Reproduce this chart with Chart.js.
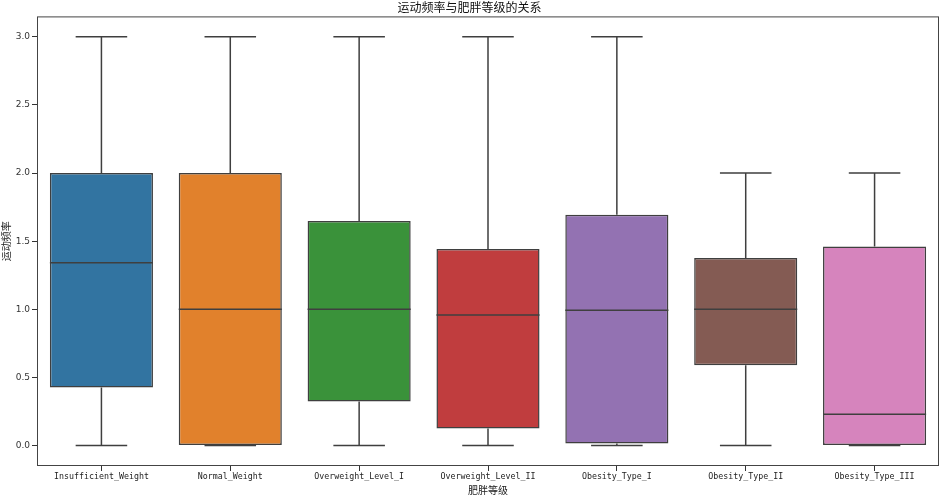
<!DOCTYPE html>
<html>
<head>
<meta charset="utf-8">
<script src="https://cdn.jsdelivr.net/npm/chart.js@4/dist/chart.umd.min.js"></script>
<style>
html,body{margin:0;padding:0;background:#fff;}
#wrap{width:942px;height:496px;}
</style>
</head>
<body>
<div id="wrap"><canvas id="c"></canvas></div>
<script>
const categories = ["Insufficient_Weight","Normal_Weight","Overweight_Level_I","Overweight_Level_II","Obesity_Type_I","Obesity_Type_II","Obesity_Type_III"];
const whiskerLow  = [0, 0, 0, 0, 0, 0, 0];
const q1Values    = [0.426, 0, 0.323, 0.126, 0.015, 0.59, 0];
const medianValues= [1.342, 1.0, 1.0, 0.959, 0.994, 1.0, 0.23];
const q3Values    = [2.0, 2.0, 1.648, 1.442, 1.694, 1.377, 1.462];
const whiskerHigh = [3.0, 3.0, 3.0, 3.0, 3.0, 2.0, 2.0];
const yTickValues = [0.0, 0.5, 1.0, 1.5, 2.0, 2.5, 3.0];
const boxColors = ["#3274a1","#e1812c","#3a923a","#c03d3e","#9372b2","#845b53","#d684bd"];
const lineColor = "#3f3f3f";
const cjk = "'Noto Sans CJK SC','DejaVu Sans',sans-serif";

const boxPlugin = {
  id: 'boxparts',
  afterDatasetsDraw(chart) {
    const ctx = chart.ctx;
    const xs = chart.scales.x, ys = chart.scales.y;
    const meta = chart.getDatasetMeta(0);
    ctx.save();
    ctx.strokeStyle = lineColor;
    ctx.lineWidth = 1.5;
    ctx.lineCap = 'butt';
    categories.forEach((c, i) => {
      const el = meta.data[i];
      const cx = xs.getPixelForValue(i);
      const half = el.width / 2;
      const capHalf = half / 2;
      const yLo = ys.getPixelForValue(whiskerLow[i]);
      const yQ1 = ys.getPixelForValue(q1Values[i]);
      const yMed = ys.getPixelForValue(medianValues[i]);
      const yQ3 = ys.getPixelForValue(q3Values[i]);
      const yHi = ys.getPixelForValue(whiskerHigh[i]);
      ctx.beginPath();
      ctx.moveTo(cx, yQ1); ctx.lineTo(cx, yLo);
      ctx.moveTo(cx, yQ3); ctx.lineTo(cx, yHi);
      ctx.moveTo(cx - capHalf, yLo); ctx.lineTo(cx + capHalf, yLo);
      ctx.moveTo(cx - capHalf, yHi); ctx.lineTo(cx + capHalf, yHi);
      ctx.moveTo(cx - half, yMed); ctx.lineTo(cx + half, yMed);
      ctx.stroke();
    });
    ctx.restore();
  },
  afterDraw(chart) {
    const ctx = chart.ctx, a = chart.chartArea;
    ctx.save();
    ctx.strokeStyle = '#444';
    ctx.lineWidth = 1;
    ctx.strokeRect(a.left + 0.5, a.top + 0.5, a.right - a.left - 1, a.bottom - a.top - 1);
    ctx.restore();
  }
};

new Chart(document.getElementById('c'), {
  type: 'bar',
  data: {
    labels: categories,
    datasets: [{
      data: categories.map((c, i) => [q1Values[i], q3Values[i]]),
      backgroundColor: boxColors,
      borderColor: lineColor,
      borderWidth: 1.5,
      borderSkipped: false,
      barPercentage: 0.8,
      categoryPercentage: 1.0
    }]
  },
  options: {
    responsive: true,
    maintainAspectRatio: false,
    animation: false,
    layout: { padding: { left: 0, right: 3, top: 0, bottom: 0 } },
    plugins: {
      legend: { display: false },
      tooltip: { enabled: false },
      title: {
        display: true,
        text: '运动频率与肥胖等级的关系',
        color: '#111',
        font: { family: cjk, size: 12, weight: 'normal' },
        padding: { top: 0, bottom: 2 }
      }
    },
    scales: {
      x: {
        type: 'category',
        offset: true,
        grid: { display: true, drawOnChartArea: false, drawTicks: true, tickLength: 5, offset: false, color: '#333' },
        border: { display: false },
        ticks: { color: '#222', padding: 1, maxRotation: 0, autoSkip: false, font: { family: "'DejaVu Sans Mono',monospace", size: 8.3 } },
        title: { display: true, text: '肥胖等级', color: '#222', padding: { top: 0, bottom: 0 }, font: { family: cjk, size: 10 } },
        afterFit(s) { s.height = 30; }
      },
      y: {
        type: 'linear',
        min: -0.15,
        max: 3.15,
        afterBuildTicks(s) { s.ticks = yTickValues.map(v => ({ value: v })); },
        grid: { display: true, drawOnChartArea: false, drawTicks: true, tickLength: 5, color: '#333' },
        border: { display: false },
        ticks: { color: '#333', padding: 2, font: { family: "'DejaVu Sans',sans-serif", size: 9 }, callback: v => Number(v).toFixed(1) },
        title: { display: true, text: '运动频率', color: '#222', padding: { top: 0, bottom: 0 }, font: { family: cjk, size: 10 } },
        afterFit(s) { s.width = 37; }
      }
    }
  },
  plugins: [boxPlugin]
});
</script>
</body>
</html>
